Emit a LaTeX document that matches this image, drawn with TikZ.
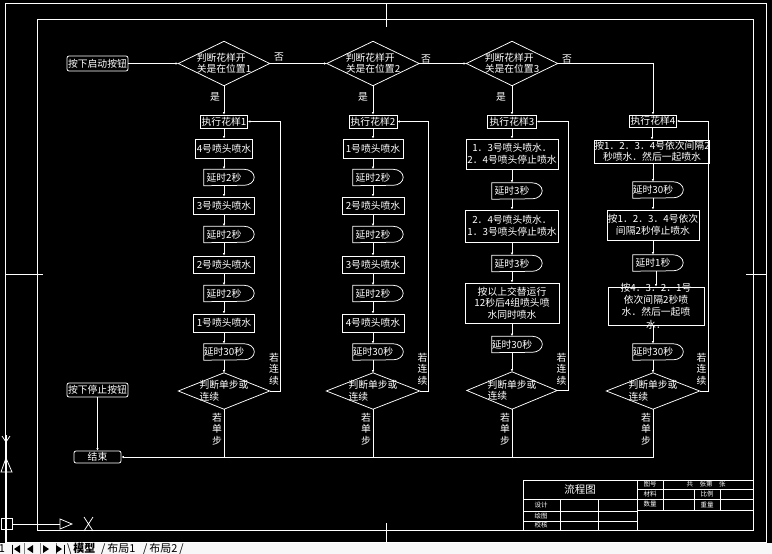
\documentclass[tikz,border=0pt]{standalone}
\usepackage{fontspec}
\newfontfamily\cjk{Noto Sans CJK SC}
\usetikzlibrary{arrows.meta}
\tikzset{
 ln/.style={draw=white, line width=0.75pt},
 arr/.style={ln, -{Latex[length=2.6pt,width=2.4pt]}},
 txt/.style={font=\cjk\fontsize{9.8}{11.5}\selectfont, text=white, inner sep=0pt},
 box/.style={txt, draw=white, line width=0.75pt, align=center, minimum height=17pt},
 rbox/.style={box, rounded corners=2pt},
 dlyr/.style={txt, minimum width=40pt, minimum height=16pt},
 vtxt/.style={txt, align=center},
 small/.style={font=\cjk\fontsize{6.5}{8}\selectfont, text=white, inner sep=0pt},
 frm/.style={draw=white, line width=0.75pt},
 tab/.style={font=\cjk\fontsize{11}{12}\selectfont, text=black, inner sep=0pt},
 tri/.style={fill=black},
}
\newcommand\mkdelay[3]{%
 \node[dlyr] (#1) at (#2) {#3};
 \draw[ln] (#1.north west) -- (#1.north east) arc[start angle=90, end angle=-90, x radius=10pt, y radius=8pt] -- (#1.south west) -- cycle;}
\newcommand\mkdmd[5]{%
 \node[txt, minimum width=#3pt, minimum height=#4pt, align=left] (#1) at (#2) {#5};
 \draw[ln] (#1.west) -- (#1.north) -- (#1.east) -- (#1.south) -- cycle;}
\begin{document}
\begin{tikzpicture}[x=1pt,y=-1pt]
\useasboundingbox (0,0) rectangle (772,554);
\fill[black] (0,0) rectangle (772,554);
% frames
\draw[frm] (5,3.5) rectangle (766,542);
\draw[frm] (37,19.5) rectangle (753,530);
\draw[frm] (386,3.5) -- (386,26.5) (386,523) -- (386,542);
\draw[frm] (5,274) -- (43,274) (746,274) -- (766,274);
% start / stop / end
\node[rbox, minimum width=61pt, minimum height=15pt] (st) at (97.5,63.5) {按下启动按钮};
\node[rbox, minimum width=61pt, minimum height=14pt] (sp) at (97.5,390) {按下停止按钮};
\node[rbox, minimum width=47pt, minimum height=12pt] (en) at (97.5,457) {结束};
% top decisions
\mkdmd{d1}{224,63.5}{91}{44}{判断花样开\\关是在位置1}
\mkdmd{d2}{373,63.5}{92}{44}{判断花样开\\关是在位置2}
\mkdmd{d3}{512,63.5}{91}{44}{判断花样开\\关是在位置3}
% column 1
\node[box, minimum width=47pt, minimum height=13pt] (e1) at (224,121.5) {执行花样1};
\node[box, minimum width=57pt, minimum height=19pt] (b11) at (224,148.5) {4号喷头喷水};
\mkdelay{t11}{224,177.5}{延时2秒}
\node[box, minimum width=61pt] (b12) at (224,205.5) {3号喷头喷水};
\mkdelay{t12}{224,234.5}{延时2秒}
\node[box, minimum width=61pt] (b13) at (224,264.5) {2号喷头喷水};
\mkdelay{t13}{224,293.5}{延时2秒}
\node[box, minimum width=61pt, minimum height=18pt] (b14) at (224,323) {1号喷头喷水};
\mkdelay{t14}{224,352}{延时30秒}
\mkdmd{j1}{224,391}{91}{36}{判断单步或\\连续}
% column 2
\node[box, minimum width=48pt, minimum height=13pt] (e2) at (373,121.5) {执行花样2};
\node[box, minimum width=60pt, minimum height=19pt] (b21) at (373,148.5) {1号喷头喷水};
\mkdelay{t21}{373,177.5}{延时2秒}
\node[box, minimum width=62pt] (b22) at (373,205.5) {2号喷头喷水};
\mkdelay{t22}{373,234.5}{延时2秒}
\node[box, minimum width=62pt] (b23) at (373,264.5) {3号喷头喷水};
\mkdelay{t23}{373,293.5}{延时2秒}
\node[box, minimum width=62pt, minimum height=18pt] (b24) at (373,323) {4号喷头喷水};
\mkdelay{t24}{373,352}{延时30秒}
\mkdmd{j2}{373,391}{93}{36}{判断单步或\\连续}
% column 3
\node[box, minimum width=49pt, minimum height=13pt] (e3) at (512,121.5) {执行花样3};
\node[box, minimum width=92pt, minimum height=30pt] (b31) at (512,154) {1．3号喷头喷水．\\2．4号喷头停止喷水};
\mkdelay{t31}{512,191}{延时3秒}
\node[box, minimum width=93pt, minimum height=32pt] (b32) at (512,226) {2．4号喷头喷水．\\1．3号喷头停止喷水};
\mkdelay{t32}{512,263.5}{延时3秒}
\node[box, minimum width=94pt, minimum height=40pt] (b33) at (512,303) {按以上交替运行\\12秒后4组喷头喷\\水同时喷水};
\mkdelay{t33}{512,344.5}{延时30秒}
\mkdmd{j3}{512,390.5}{90}{37}{判断单步或\\连续}
% column 4
\node[box, minimum width=47pt, minimum height=12pt] (e4) at (653,121) {执行花样4};
\node[box, minimum width=111pt, minimum height=23pt] (b41) at (652,151.5) {按1．2．3．4号依次间隔2\\秒喷水．然后一起喷水};
\mkdelay{t41}{653,190}{延时30秒}
\node[box, minimum width=92pt, minimum height=30pt] (b42) at (653,225) {按1．2．3．4号依次\\间隔2秒停止喷水};
\mkdelay{t42}{653,263}{延时1秒}
\node[box, minimum width=96pt, minimum height=38pt] (b43) at (656,306) {};
\node[txt, align=center, font=\cjk\fontsize{9.8}{12.3}\selectfont] (b43t) at (b43.center) {按4．3．2．1号\\依次间隔2秒喷\\水．然后一起喷\\水．};
\mkdelay{t43}{653,352}{延时30秒}
\mkdmd{j4}{653,391}{93}{36}{判断单步或\\连续}
% top connectors
\draw[arr] (st.east) -- (d1.west);
\draw[arr] (d1.east) -- (d2.west);
\draw[arr] (d2.east) -- (d3.west);
\draw[arr] (d3.east) -| (e4.north);
\node[txt] (n1) at (279,57) {否};
\node[txt] (n2) at (426,59) {否};
\node[txt] (n3) at (567,59) {否};
\draw[arr] (d1.south) -- (e1.north);
\draw[arr] (d2.south) -- (e2.north);
\draw[arr] (d3.south) -- (e3.north);
\node[txt] (y1) at (215,97) {是};
\node[txt] (y2) at (363,97) {是};
\node[txt] (y3) at (501,97) {是};
% column chains
\foreach \a/\b in {e1/b11,b11/t11,t11/b12,b12/t12,t12/b13,b13/t13,t13/b14,b14/t14,t14/j1,
 e2/b21,b21/t21,t21/b22,b22/t22,t22/b23,b23/t23,t23/b24,b24/t24,t24/j2,
 e3/b31,b31/t31,t31/b32,b32/t32,t32/b33,b33/t33,t33/j3,
 e4/b41,b41/t41,t41/b42,b42/t42,t42/b43,b43/t43,t43/j4}
 {\draw[arr] (\b.north |- \a.south) -- (\b.north);}
% loops
\coordinate (r1) at (280,0);
\coordinate (r2) at (428.5,0);
\coordinate (r3) at (568,0);
\coordinate (r4) at (708,0);
\draw[arr] (j1.east) -| (r1 |- e1.east) -- (e1.east);
\draw[arr] (j2.east) -| (r2 |- e2.east) -- (e2.east);
\draw[arr] (j3.east) -| (r3 |- e3.east) -- (e3.east);
\draw[arr] (j4.east) -| (r4 |- e4.east) -- (e4.east);
\node[vtxt] (c1) at (274,369) {若\\连\\续};
\node[vtxt] (c2) at (422.5,369) {若\\连\\续};
\node[vtxt] (c3) at (561.5,369) {若\\连\\续};
\node[vtxt] (c4) at (701.5,369) {若\\连\\续};
% single-step exits
\draw[ln] (j1.south) -- (j1.south |- en.east);
\draw[ln] (j2.south) -- (j2.south |- en.east);
\draw[ln] (j3.south) -- (j3.south |- en.east);
\draw[arr] (j4.south) |- (en.east);
\node[vtxt] (s1) at (217,429) {若\\单\\步};
\node[vtxt] (s2) at (366,429) {若\\单\\步};
\node[vtxt] (s3) at (505,429) {若\\单\\步};
\node[vtxt] (s4) at (646,429) {若\\单\\步};
\draw[arr] (sp.south) -- (en.north);
% title block
\draw[frm] (523,480) rectangle (753,530);
\draw[frm] (637,480) -- (637,530);
\draw[frm] (523,499) -- (637,499) (523,511) -- (637,511) (523,521) -- (637,521);
\draw[frm] (560,499) -- (560,530) (598,499) -- (598,530);
\draw[frm] (637,489) -- (753,489) (637,499) -- (753,499) (637,510) -- (753,510);
\draw[frm] (663,480) -- (663,510) (694,489) -- (694,510) (720,489) -- (720,510);
\node[txt, font=\cjk\fontsize{10.5}{12}\selectfont] (tt) at (580,489.5) {流程图};
\node[small] (k1) at (541,505) {设计};
\node[small] (k2) at (541,516) {绘图};
\node[small] (k3) at (541,525.5) {校核};
\node[small] (k4) at (650,484.5) {图号};
\node[small] (k5) at (650,494) {材料};
\node[small] (k6) at (650,504.5) {数量};
\node[small] (k7) at (707,494) {比例};
\node[small] (k8) at (707,504.5) {重量};
\node[small] (k9) at (706,484.5) {共\quad 张第\quad 张};
% UCS icon
\draw[frm] (6,435) -- (6,542);
\draw[frm] (2,436) -- (6,442) -- (10,436) (6,442) -- (6,447);
\draw[frm] (6,458) -- (1,472) -- (12,472) -- cycle;
\draw[frm] (1,518) rectangle (12,529);
\draw[frm] (12,524) -- (60,524);
\draw[frm] (72,524) -- (60,519) -- (60,529) -- cycle;
\draw[frm] (84,517) -- (93,531) (93,517) -- (84,531);
% tab bar
\fill[white!94!gray] (0,543) rectangle (772,554);
\node[tab] (tb0) at (2,549) {1};
\draw[black, line width=0.8pt] (12,544.5) -- (12,553.5);
\fill[tri] (14,549) -- (20,545) -- (20,553) -- cycle;
\fill[tri] (27,549) -- (33,545) -- (33,553) -- cycle;
\draw[gray, line width=0.5pt] (24,543) -- (24,554) (40,543) -- (40,554) (56,543) -- (56,554);
\fill[tri] (49,549) -- (43,545) -- (43,553) -- cycle;
\fill[tri] (62,549) -- (56,545) -- (56,553) -- cycle;
\draw[black, line width=0.8pt] (64,544.5) -- (64,553.5);
\node[tab, anchor=west] (tb1) at (67,549) {\textbackslash\,\textbf{模型}};
\node[tab, anchor=west] (tb2) at (101,549) {/\,布局1};
\node[tab, anchor=west] (tb3) at (143,549) {/\,布局2\,/};
\end{tikzpicture}
\end{document}
